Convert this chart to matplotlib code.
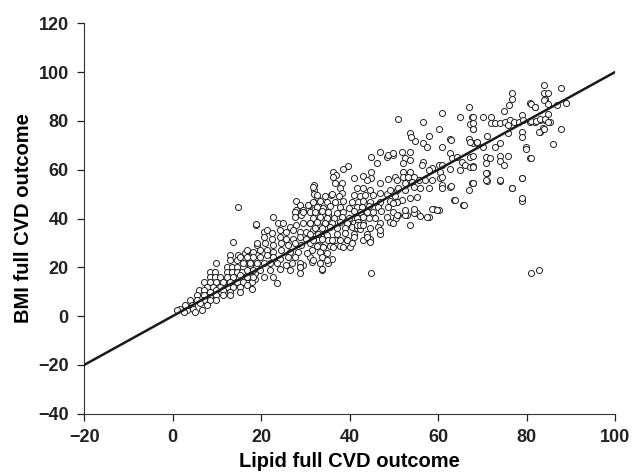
import numpy as np
import matplotlib
matplotlib.use('Agg')
import matplotlib.pyplot as plt

# (lipid, bmi) pairs, grouped by region
low_left = [
    (13.7, 30.2), (19.0, 29.1),
    (13.0, 25.0), (14.8, 25.0), (16.4, 25.7), (17.9, 25.7), (19.0, 25.0),
    (13.0, 23.0), (14.5, 23.0), (16.0, 23.0), (17.5, 23.0), (18.8, 23.0),
    (9.9, 21.6),
    (12.3, 20.2), (13.4, 20.2), (14.5, 20.2), (16.0, 20.2), (17.5, 20.9), (18.8, 20.2),
    (8.5, 18.2), (9.6, 18.2), (12.3, 18.2), (13.4, 18.2), (14.5, 18.2), (15.7, 18.2),
    (17.5, 18.2), (18.6, 17.5),
    (8.5, 16.1), (9.6, 16.1), (10.8, 16.1), (12.3, 16.1), (13.7, 16.1), (15.7, 16.1),
    (17.2, 16.1), (18.6, 15.4),
    (7.0, 14.1), (8.5, 14.1), (9.9, 14.1), (11.5, 14.1), (13.0, 14.1), (14.5, 14.1),
    (16.0, 14.1), (17.9, 14.1),
    (7.7, 12.0), (9.2, 12.0), (10.8, 12.0), (12.3, 12.0), (13.7, 12.0), (15.2, 12.0), (16.8, 12.7),
    (5.9, 10.7), (7.0, 10.7), (8.5, 10.0), (9.9, 10.7), (11.5, 10.7), (13.0, 10.0),
    (15.2, 10.0), (17.9, 11.3),
    (5.5, 8.6), (7.0, 8.6), (8.5, 7.9), (9.9, 8.6), (11.5, 8.6), (13.0, 8.6),
    (3.9, 6.6), (5.5, 6.6), (7.0, 6.6), (8.5, 6.6), (9.9, 6.6),
    (2.8, 4.5), (4.3, 4.5), (6.3, 5.2), (7.7, 4.5),
    (1.7, 3.1), (3.2, 2.5), (4.7, 3.1), (6.6, 2.5),
    (1.0, 2.5), (2.5, 1.8), (5.1, 1.8),
    (14.8, 44.7), (18.8, 37.3), (20.6, 34.5), (23.7, 13.4),
]

mid_low = [
    (32.0, 53.7), (32.0, 51.6), (32.7, 48.9), (35.8, 49.6),
    (27.9, 47.3), (28.8, 45.5), (30.8, 45.5), (32.9, 45.5),
    (27.9, 43.4), (29.4, 43.4), (32.0, 43.4), (33.7, 43.4), (34.9, 42.8),
    (27.9, 41.4), (29.1, 41.4), (32.6, 41.4), (34.0, 41.4), (35.1, 41.4),
    (22.8, 40.7), (18.8, 37.7), (27.7, 42.7), (27.7, 40.7), (29.5, 42.7), (30.6, 45.5),
    (23.9, 38.0), (25.0, 38.0), (26.6, 36.6), (28.0, 37.3), (29.5, 38.0), (31.1, 38.0),
    (32.9, 37.3), (34.4, 38.0),
    (21.3, 35.2), (22.4, 33.9), (24.2, 35.2), (25.7, 34.6), (27.3, 35.2), (28.8, 34.6),
    (30.2, 34.6), (31.8, 35.2), (33.3, 35.2), (34.6, 35.9),
    (20.6, 32.5), (22.4, 31.8), (24.2, 32.5), (25.7, 31.8), (27.3, 31.8), (28.8, 32.5),
    (30.2, 31.8), (31.8, 31.8), (33.7, 32.5),
    (19.0, 29.8), (20.9, 29.8), (22.8, 29.1), (24.6, 29.8), (26.1, 29.1), (27.7, 29.8),
    (29.1, 29.1), (31.1, 29.8), (32.9, 29.1), (34.4, 29.8),
    (16.8, 27.0), (18.2, 26.4), (19.7, 27.0), (21.3, 27.0), (22.8, 26.4), (24.6, 27.0),
    (26.6, 26.4), (28.4, 26.4), (31.5, 27.0), (33.3, 26.4),
    (15.2, 24.3), (16.8, 24.3), (18.2, 24.3), (19.7, 24.3), (21.3, 25.0), (22.8, 24.3),
    (24.2, 23.6), (26.1, 24.3), (27.7, 24.3), (31.1, 24.3), (33.7, 24.3),
    (16.0, 21.6), (17.5, 21.6), (19.0, 21.6), (20.6, 21.6), (22.0, 21.6), (23.5, 21.6),
    (25.7, 20.9), (26.9, 21.6), (29.5, 20.9), (31.5, 22.3), (35.2, 21.6),
    (16.8, 18.9), (18.2, 18.9), (19.7, 18.9), (22.0, 18.9), (24.2, 19.5), (26.6, 18.9),
    (28.8, 17.5), (33.7, 19.1),
    (15.2, 16.8), (16.8, 16.1), (18.2, 16.1), (20.6, 16.1), (22.8, 16.1),
    (28.8, 21.6), (28.8, 20.2), (33.7, 19.5),
]

mid = [
    (46.9, 67.3), (44.8, 65.3), (48.5, 65.3), (49.8, 66.0), (48.7, 66.0),
    (39.6, 61.5), (38.6, 60.1), (36.2, 59.1), (36.9, 57.8), (36.2, 57.1),
    (46.1, 62.6), (43.1, 57.4), (44.8, 59.1), (44.8, 56.4), (43.9, 55.7), (40.9, 56.4),
    (46.9, 54.6), (48.7, 56.0), (50.3, 57.1), (38.2, 54.6), (36.7, 54.6),
    (32.0, 50.0), (31.8, 53.0), (37.8, 52.3), (38.2, 50.3), (41.6, 52.3), (43.1, 52.3),
    (44.7, 51.6), (46.9, 50.3), (50.7, 51.6),
    (32.6, 49.6), (34.5, 49.3), (36.0, 49.9), (37.5, 49.4), (40.9, 49.8), (42.4, 49.2),
    (43.5, 49.7), (45.4, 49.5), (48.4, 49.9), (50.3, 49.4),
    (31.8, 46.9), (33.3, 47.2), (34.9, 46.6), (36.7, 46.9), (38.6, 47.3), (40.5, 46.7),
    (42.0, 46.9), (43.1, 47.2), (44.7, 46.6), (46.9, 46.9), (49.2, 47.3), (50.7, 46.8),
    (32.6, 44.8), (34.0, 44.5), (35.6, 45.1), (37.8, 44.8), (39.8, 44.4), (41.6, 44.9),
    (42.7, 44.8), (44.3, 45.2), (46.5, 44.6), (48.7, 44.8),
    (31.1, 42.8), (32.2, 42.5), (33.7, 43.0), (35.2, 42.8), (37.1, 42.4), (38.6, 42.8),
    (40.9, 43.1), (42.4, 42.7), (43.9, 42.8), (45.4, 42.5), (47.2, 42.9), (49.9, 42.8),
    (31.8, 40.4), (33.3, 40.7), (34.9, 40.2), (36.4, 40.4), (38.2, 40.6), (39.8, 40.3),
    (41.6, 40.4), (43.1, 40.8), (44.3, 40.2), (45.8, 40.4), (48.4, 40.6), (50.5, 40.2),
    (31.1, 38.2), (32.6, 38.5), (34.5, 38.0), (36.0, 38.2), (37.8, 38.4), (39.4, 38.0),
    (40.9, 38.2), (42.0, 38.6), (43.1, 38.1), (46.9, 38.2), (49.2, 38.4),
    (32.2, 36.3), (33.7, 36.0), (35.6, 36.5), (37.1, 36.3), (38.9, 36.1), (40.5, 36.4),
    (41.6, 36.3), (42.4, 35.9), (44.7, 36.3), (46.5, 36.6),
    (31.1, 33.6), (32.9, 33.8), (34.9, 33.4), (37.1, 33.6), (38.9, 33.9), (40.9, 33.5),
    (43.9, 33.6), (46.9, 33.8),
    (31.8, 31.2), (33.7, 31.5), (35.2, 31.0), (36.7, 31.2), (37.8, 31.4), (39.4, 31.1),
    (43.1, 31.2), (44.7, 31.5),
    (32.6, 28.7), (34.0, 28.4), (35.6, 28.9), (37.8, 28.7), (40.1, 28.5),
]

mid_below = [
    (44.8, 17.5), (46.9, 35.2), (49.9, 38.0), (51.0, 41.4), (53.0, 41.4), (55.2, 42.1),
    (53.7, 37.3), (57.9, 40.7), (59.0, 44.1), (60.1, 43.4), (63.5, 47.5),
    (43.9, 32.5), (44.7, 30.5), (40.9, 32.5), (39.4, 31.1), (41.6, 37.3), (42.4, 37.3),
    (43.1, 37.3), (38.6, 28.4), (40.5, 29.8),
    (36.0, 31.1), (36.3, 28.4), (34.9, 25.7), (36.0, 23.6), (34.9, 23.0), (33.3, 21.6),
    (31.8, 23.0), (30.4, 25.7), (28.8, 20.2),
]

upper = [
    (66.9, 85.8), (60.8, 83.3), (51.0, 80.6), (56.7, 79.6),
    (65.0, 81.4), (67.7, 81.7), (67.3, 78.7), (68.0, 76.5), (60.1, 76.5),
    (53.7, 74.9), (54.8, 71.9), (53.9, 73.2), (57.9, 73.8), (56.7, 70.8), (57.5, 69.4),
    (62.8, 72.4), (66.9, 72.4), (68.0, 71.0), (68.9, 71.0),
    (49.9, 66.7), (51.8, 67.3), (53.7, 67.3), (52.5, 64.6), (53.7, 63.9), (52.1, 62.6),
    (56.7, 63.3), (56.3, 61.9),
    (62.8, 66.7), (63.1, 64.6), (64.2, 65.3), (65.3, 63.3), (67.3, 65.3), (66.1, 61.9),
    (65.0, 59.8), (67.3, 61.2),
    (60.1, 61.9), (60.8, 61.9), (58.6, 60.5), (57.9, 59.8), (60.5, 59.1), (62.8, 60.1),
    (52.1, 59.1), (53.7, 59.1), (50.7, 55.7), (52.1, 57.1), (53.2, 57.1), (54.5, 57.1),
    (52.5, 54.4), (54.1, 55.0), (55.6, 55.7), (57.0, 55.7), (58.6, 55.7), (60.5, 56.4),
    (60.8, 53.7),
    (49.2, 51.6), (51.0, 52.3), (52.5, 51.6), (54.5, 53.0), (55.9, 52.3), (55.2, 48.9),
    (53.7, 48.2), (51.8, 47.5), (50.7, 46.8), (49.9, 46.2),
    (57.9, 52.3), (60.8, 52.3), (62.8, 53.0), (66.9, 51.6), (67.7, 54.4),
    (63.9, 47.5), (65.7, 45.5), (58.6, 44.1), (59.7, 43.4),
    (50.7, 41.4), (52.5, 41.4), (54.5, 42.1), (55.9, 41.0), (57.5, 40.7), (52.5, 43.4),
    (54.5, 44.1),
    (60.8, 69.1), (60.8, 57.1), (62.9, 72.1), (62.9, 53.3),
    (67.9, 54.6), (67.9, 61.5), (71.0, 58.5), (71.0, 55.5), (74.0, 55.5),
    (65.9, 45.5), (76.8, 52.3), (78.9, 56.4), (78.9, 47.3),
]

high = [
    (83.9, 94.7), (83.9, 91.5), (84.2, 88.8),
    (76.8, 91.5), (76.6, 88.8), (76.1, 86.5), (74.9, 84.2),
    (80.8, 87.2), (82.0, 85.8), (78.9, 82.4),
    (70.2, 81.4), (72.0, 81.4), (72.0, 79.0), (72.9, 79.0), (74.0, 79.0), (75.1, 79.6),
    (76.2, 80.3), (77.1, 79.6), (78.2, 79.6), (79.3, 80.3), (80.8, 79.6), (82.0, 79.6),
    (83.1, 80.3), (84.2, 80.3), (85.3, 79.6),
    (67.9, 81.4), (67.9, 79.0), (67.9, 76.5),
    (75.9, 78.3), (75.9, 74.9), (78.9, 75.5), (78.9, 73.5), (83.1, 75.5), (83.8, 76.9),
    (71.0, 73.8), (68.8, 71.5), (67.3, 71.5),
    (74.0, 70.8), (72.9, 69.1), (70.1, 69.4),
    (79.9, 69.4), (79.9, 68.3), (80.8, 64.6),
    (70.8, 65.3), (71.7, 64.6), (70.8, 62.6), (74.0, 65.6), (74.0, 63.7), (74.8, 61.9),
    (75.9, 65.6), (67.9, 65.6), (67.9, 61.2),
    (70.8, 58.5), (70.8, 55.7), (74.0, 55.7), (78.9, 56.4),
    (67.9, 54.7), (76.8, 52.7), (78.9, 48.2),
]

top = [
    (84.9, 91.5), (87.7, 93.3), (84.0, 88.5), (84.9, 87.1), (86.9, 86.5), (88.9, 87.4),
    (81.1, 87.1), (82.0, 85.8),
    (81.1, 80.0), (82.1, 80.0), (83.1, 80.6), (84.2, 80.6), (84.9, 79.6), (84.9, 82.8),
    (82.9, 75.5), (84.0, 76.5), (87.7, 76.5), (86.0, 70.7),
    (81.1, 64.6), (81.1, 17.5), (82.9, 19.1),
]

groups = [low_left, mid_low, mid, mid_below, upper, high, top]
pts = np.array([p for g in groups for p in g])
lipid = pts[:, 0]
bmi = pts[:, 1]

plt.rcParams['font.family'] = ['Liberation Sans', 'DejaVu Sans']
plt.rcParams['font.weight'] = 'bold'

fig = plt.figure(figsize=(6.42, 4.74), dpi=100)
ax = fig.add_axes([0.131, 0.127, 0.827, 0.824])

ax.plot([-20, 100], [-20, 100], color='#1a1a1a', linewidth=1.8, zorder=3)
ax.scatter(lipid, bmi, s=19, facecolors='white', edgecolors='#222222',
           linewidths=0.7, zorder=2)

ax.set_xlim(-20, 100)
ax.set_ylim(-40, 120)
ax.set_xticks(np.arange(-20, 101, 20))
ax.set_yticks(np.arange(-40, 121, 20))
ax.spines['top'].set_visible(False)
ax.spines['right'].set_visible(False)
ax.spines['left'].set_color('#333333')
ax.spines['bottom'].set_color('#333333')
ax.tick_params(direction='out', length=5, width=0.9, labelsize=13,
               colors='#222222', pad=6)
for lab in ax.get_xticklabels() + ax.get_yticklabels():
    lab.set_fontweight('bold')

ax.set_xlabel('Lipid full CVD outcome', fontsize=14.5, fontweight='bold', labelpad=4)
ax.set_ylabel('BMI full CVD outcome', fontsize=14.5, fontweight='bold', labelpad=4)

plt.savefig('out.png', dpi=100)
